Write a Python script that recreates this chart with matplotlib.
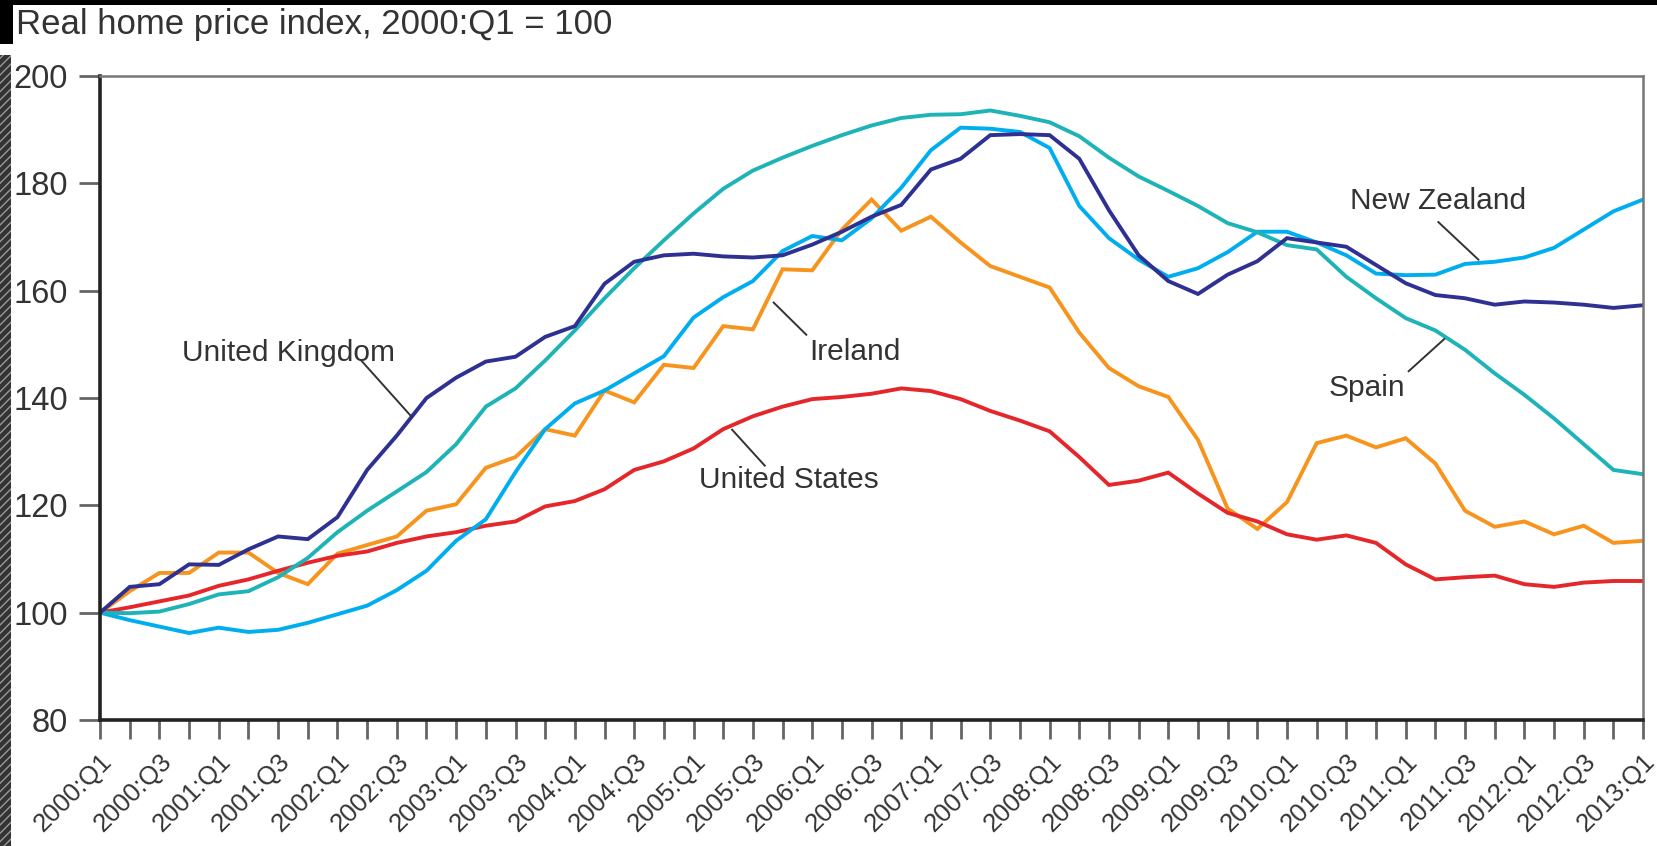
import matplotlib

matplotlib.use("Agg")

import matplotlib.pyplot as plt
from matplotlib.patches import Rectangle

plt.rcParams["font.family"] = ["Liberation Sans", "DejaVu Sans"]

# quarterly labels 2000:Q1 .. 2013:Q1
quarters = [f"{y}:Q{q}" for y in range(2000, 2014) for q in range(1, 5)][:53]

united_kingdom = [
    100, 104.8, 105.3, 109.0, 108.9, 111.8, 114.2, 113.7, 117.8, 126.6,
    133.0, 140.0, 143.8, 146.8, 147.7, 151.4, 153.4, 161.3, 165.4, 166.6,
    166.9, 166.4, 166.2, 166.6, 168.6, 171.0, 173.8, 176.0, 182.6, 184.6,
    189.0, 189.2, 189.0, 184.6, 175.0, 166.6, 161.8, 159.4, 163.0, 165.5,
    169.8, 169.0, 168.2, 164.8, 161.4, 159.2, 158.6, 157.4, 158.0, 157.8,
    157.4, 156.8, 157.3,
]
spain = [
    100, 99.9, 100.2, 101.6, 103.4, 104.0, 106.6, 110.2, 115.0, 119.0,
    122.6, 126.2, 131.4, 138.4, 141.8, 147.0, 152.6, 158.6, 164.2, 169.4,
    174.4, 179.0, 182.4, 184.8, 187.0, 189.0, 190.8, 192.2, 192.8, 192.9,
    193.6, 192.6, 191.4, 188.8, 184.8, 181.3, 178.6, 175.8, 172.6, 170.9,
    168.5, 167.7, 162.6, 158.6, 154.9, 152.6, 149.0, 144.6, 140.6, 136.2,
    131.4, 126.6, 125.8,
]
new_zealand = [
    100, 98.6, 97.4, 96.2, 97.2, 96.4, 96.8, 98.1, 99.7, 101.3,
    104.2, 107.8, 113.4, 117.4, 126.2, 134.2, 139.0, 141.4, 144.6, 147.8,
    155.0, 158.8, 161.8, 167.4, 170.2, 169.4, 173.5, 179.2, 186.2, 190.4,
    190.2, 189.6, 186.6, 175.8, 169.8, 165.8, 162.6, 164.2, 167.2, 171.0,
    171.0, 169.0, 166.6, 163.2, 162.9, 163.0, 165.0, 165.4, 166.2, 168.0,
    171.4, 174.8, 177.0,
]
ireland = [
    100, 104.0, 107.4, 107.4, 111.2, 111.2, 107.4, 105.3, 111.0, 112.6,
    114.2, 119.0, 120.2, 127.0, 129.0, 134.2, 133.0, 141.4, 139.2, 146.2,
    145.6, 153.4, 152.8, 164.0, 163.8, 171.4, 177.0, 171.2, 173.8, 169.0,
    164.6, 162.6, 160.6, 152.2, 145.6, 142.2, 140.2, 132.2, 119.4, 115.6,
    120.6, 131.6, 133.0, 130.8, 132.5, 127.8, 119.0, 116.0, 117.0, 114.6,
    116.2, 113.0, 113.4,
]
united_states = [
    100, 101.0, 102.1, 103.2, 105.0, 106.2, 107.8, 109.3, 110.6, 111.4,
    113.0, 114.2, 115.0, 116.2, 117.0, 119.8, 120.8, 123.0, 126.6, 128.2,
    130.6, 134.2, 136.6, 138.4, 139.8, 140.2, 140.8, 141.8, 141.3, 139.8,
    137.6, 135.8, 133.8, 129.0, 123.8, 124.6, 126.1, 122.2, 118.6, 117.0,
    114.6, 113.6, 114.4, 113.0, 109.0, 106.2, 106.6, 106.9, 105.3, 104.8,
    105.6, 105.9, 105.9,
]

series = [
    (ireland, "#f7941d"),
    (united_states, "#e5262b"),
    (new_zealand, "#00aeef"),
    (spain, "#1eb3b6"),
    (united_kingdom, "#2e3192"),
]

# label text, text position (x, y), leader line start and end
labels = [
    ("United Kingdom", (6.35, 148.4), (8.8, 147.0), (10.5, 136.5), "center"),
    ("Ireland", (23.9, 148.6), (22.7, 157.8), (23.8, 151.8), "left"),
    ("United States", (23.2, 124.8), (21.3, 134.1), (22.4, 127.4), "center"),
    ("New Zealand", (45.1, 176.8), (45.1, 172.8), (46.45, 165.8), "center"),
    ("Spain", (42.7, 141.8), (44.1, 145.0), (45.3, 151.0), "center"),
]

fig = plt.figure(figsize=(16.57, 8.46), dpi=100)
ax = fig.add_axes([0.0604, 0.149, 0.9312, 0.761])

x = list(range(len(quarters)))
for values, color in series:
    ax.plot(x, values, color=color, linewidth=2.8, solid_joinstyle="miter")

text_color = "#333333"
for text, (tx, ty), (x0, y0), (x1, y1), ha in labels:
    ax.text(tx, ty, text, fontsize=21.5, color=text_color, ha=ha, va="center")
    ax.plot([x0, x1], [y0, y1], color="#333333", linewidth=1.4)

ax.set_xlim(0, len(quarters) - 1)
ax.set_ylim(80, 200)
ax.set_yticks(range(80, 201, 20))
ax.set_xticks(x)
ax.set_xticklabels([q if i % 2 == 0 else "" for i, q in enumerate(quarters)],
                   rotation=45, ha="right", rotation_mode="anchor")

ax.tick_params(axis="y", direction="out", length=15, width=2, color="#666666",
               labelsize=23.5, labelcolor=text_color, pad=8)
ax.tick_params(axis="x", direction="out", length=14, width=2, color="#666666",
               labelsize=18.5, labelcolor=text_color, pad=7)

for side in ["left", "bottom"]:
    ax.spines[side].set_linewidth(2.6)
    ax.spines[side].set_color("#222222")
for side in ["top", "right"]:
    ax.spines[side].set_linewidth(1.8)
    ax.spines[side].set_color("#777777")

fig.text(0.0095, 0.971, "Real home price index, 2000:Q1 = 100", fontsize=25,
         color=text_color, ha="left", va="center")

# scan borders of the source image
fig.patches.append(Rectangle((0, 0.994), 1, 0.006, transform=fig.transFigure,
                             facecolor="black", edgecolor="none"))
fig.patches.append(Rectangle((0, 0.948), 0.008, 0.052, transform=fig.transFigure,
                             facecolor="black", edgecolor="none"))
fig.patches.append(Rectangle((0, 0), 0.0065, 0.935, transform=fig.transFigure,
                             facecolor="#333333", edgecolor="#999999", hatch="////",
                             linewidth=0))

fig.savefig("out.png", dpi=100)
plt.close(fig)
